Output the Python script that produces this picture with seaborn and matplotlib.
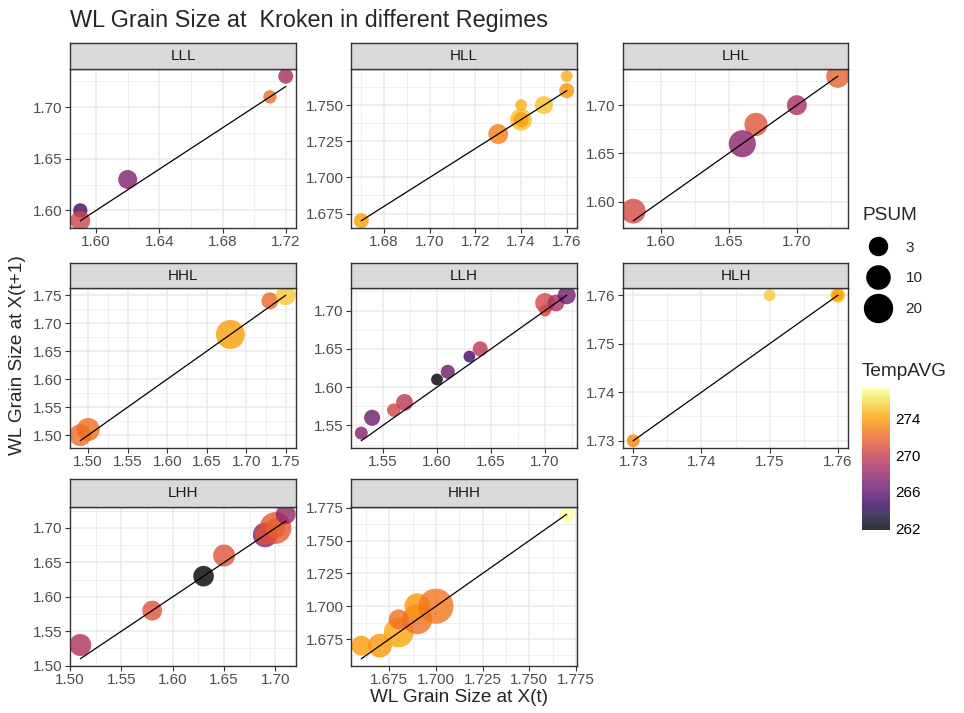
import numpy as np
import pandas as pd
import matplotlib
matplotlib.use('Agg')
import matplotlib.pyplot as plt
from matplotlib.lines import Line2D
from matplotlib.colors import Normalize
from matplotlib.ticker import FixedLocator, FixedFormatter
import seaborn as sns

sns.set_style('white')
plt.rcParams['font.family'] = ['Liberation Sans', 'DejaVu Sans']

# ---- data ----
regime_order = ['LLL', 'HLL', 'LHL', 'HHL', 'LLH', 'HLH', 'LHH', 'HHH']

regime = (['LLL'] * 5 + ['HLL'] * 8 + ['LHL'] * 5 + ['HHL'] * 5 +
          ['LLH'] * 12 + ['HLH'] * 4 + ['LHH'] * 9 + ['HHH'] * 8)

x_t = [1.59, 1.59, 1.62, 1.71, 1.72,
       1.67, 1.73, 1.74, 1.74, 1.74, 1.75, 1.76, 1.76,
       1.58, 1.67, 1.66, 1.70, 1.73,
       1.49, 1.50, 1.68, 1.73, 1.75,
       1.53, 1.54, 1.56, 1.57, 1.60, 1.61, 1.63, 1.64, 1.70, 1.70, 1.71, 1.72,
       1.73, 1.75, 1.76, 1.76,
       1.51, 1.58, 1.63, 1.65, 1.69, 1.70, 1.69, 1.70, 1.71,
       1.66, 1.67, 1.68, 1.68, 1.69, 1.69, 1.70, 1.77]

x_t1 = [1.60, 1.59, 1.63, 1.71, 1.73,
        1.67, 1.73, 1.74, 1.74, 1.75, 1.75, 1.76, 1.77,
        1.59, 1.68, 1.66, 1.70, 1.73,
        1.50, 1.51, 1.68, 1.74, 1.75,
        1.54, 1.56, 1.57, 1.58, 1.61, 1.62, 1.64, 1.65, 1.71, 1.70, 1.71, 1.72,
        1.73, 1.76, 1.76, 1.76,
        1.53, 1.58, 1.63, 1.66, 1.69, 1.70, 1.69, 1.70, 1.72,
        1.67, 1.67, 1.68, 1.69, 1.69, 1.70, 1.70, 1.77]

psum = [0.5, 5, 4, 0.2, 0.8,
        0.8, 5, 8, 0.8, 0, 3, 0.8, 0,
        13, 10, 18, 5, 10,
        8, 10, 23, 2, 5,
        0.1, 1.4, 0.2, 2, 0, 0.4, 0, 0.8, 5, 0, 2, 3,
        0.1, 0, 0.8, 0,
        8, 5, 6, 8, 13, 31, 5, 5, 5,
        5, 11, 25, 5, 25, 15, 42, 1.4]

temp = [264.9, 270.4, 267.3, 272.4, 268.8,
        274.0, 273.0, 275.1, 274.0, 274.6, 275.2, 273.7, 274.6,
        270.7, 271.2, 267.7, 268.8, 271.8,
        272.3, 272.4, 274.0, 272.1, 275.4,
        267.3, 266.5, 270.4, 269.6, 261.8, 266.5, 264.9, 269.6, 270.7, 270.7, 268.8, 266.8,
        273.2, 275.5, 275.2, 274.0,
        269.1, 271.2, 261.8, 271.2, 267.4, 271.5, 271.0, 271.8, 268.0,
        274.0, 273.8, 274.3, 272.4, 272.4, 273.8, 272.7, 277.4]

x_ticks = {
    'LLL': [1.60, 1.64, 1.68, 1.72],
    'HLL': [1.68, 1.70, 1.72, 1.74, 1.76],
    'LHL': [1.60, 1.65, 1.70],
    'HHL': [1.50, 1.55, 1.60, 1.65, 1.70, 1.75],
    'LLH': [1.55, 1.60, 1.65, 1.70],
    'HLH': [1.73, 1.74, 1.75, 1.76],
    'LHH': [1.50, 1.55, 1.60, 1.65, 1.70],
    'HHH': [1.675, 1.700, 1.725, 1.750, 1.775],
}
y_ticks = {
    'LLL': [1.60, 1.65, 1.70],
    'HLL': [1.675, 1.700, 1.725, 1.750],
    'LHL': [1.60, 1.65, 1.70],
    'HHL': [1.50, 1.55, 1.60, 1.65, 1.70, 1.75],
    'LLH': [1.55, 1.60, 1.65, 1.70],
    'HLH': [1.73, 1.74, 1.75, 1.76],
    'LHH': [1.50, 1.55, 1.60, 1.65, 1.70],
    'HHH': [1.675, 1.700, 1.725, 1.750, 1.775],
}
legend_psum = [3, 10, 20]
cbar_ticks = [262, 266, 270, 274]

df = pd.DataFrame({'regime': regime, 'x_t': x_t, 'x_t1': x_t1,
                   'PSUM': psum, 'TempAVG': temp})

# ---- styling ----
W, H = 964, 713
temp_norm = (261.8, 277.4)
small = 11
big = 13.7


def diam_px(v):
    return 11.8 + 3.6 * np.sqrt(v)


size_map = {v: (diam_px(v) * 0.72) ** 2 for v in sorted(set(psum))}


def fmt_ticks(ticks):
    dec = 3 if any(abs(t * 100 - round(t * 100)) > 1e-6 for t in ticks) else 2
    return ['{:.{}f}'.format(t, dec) for t in ticks]


def minor_of(ticks):
    step = ticks[1] - ticks[0]
    return [ticks[0] - step / 2] + [t + step / 2 for t in ticks]


def expand(lo, hi, f=0.05):
    r = hi - lo
    return lo - r * f, hi + r * f


cols = [(70, 296), (351, 577), (623, 848)]
rows = [(43, 69, 228), (263, 288, 448), (479, 507, 666)]

fig = plt.figure(figsize=(W / 100, H / 100), dpi=100)

for i, name in enumerate(regime_order):
    c0, c1 = cols[i % 3]
    s0, p0, p1 = rows[i // 3]
    ax = fig.add_axes([c0 / W, 1 - p1 / H, (c1 - c0) / W, (p1 - p0) / H])
    sax = fig.add_axes([c0 / W, 1 - p0 / H, (c1 - c0) / W, (p0 - s0) / H])

    sub = df[df.regime == name]
    sns.scatterplot(data=sub, x='x_t', y='x_t1', hue='TempAVG', size='PSUM',
                    palette='inferno', hue_norm=temp_norm, sizes=size_map,
                    alpha=0.8, linewidth=0, legend=False, ax=ax, zorder=2)
    sns.lineplot(x=sub.x_t, y=sub.x_t, color='black', lw=0.9,
                 errorbar=None, ax=ax, zorder=3)

    ax.set_xlim(*expand(sub.x_t.min(), sub.x_t.max()))
    ylo = min(sub.x_t1.min(), sub.x_t.min())
    yhi = max(sub.x_t1.max(), sub.x_t.max())
    ax.set_ylim(*expand(ylo, yhi))

    xt, yt = x_ticks[name], y_ticks[name]
    ax.xaxis.set_major_locator(FixedLocator(xt))
    ax.xaxis.set_major_formatter(FixedFormatter(fmt_ticks(xt)))
    ax.yaxis.set_major_locator(FixedLocator(yt))
    ax.yaxis.set_major_formatter(FixedFormatter(fmt_ticks(yt)))
    ax.xaxis.set_minor_locator(FixedLocator(minor_of(xt)))
    ax.yaxis.set_minor_locator(FixedLocator(minor_of(yt)))

    ax.set_facecolor('white')
    ax.set_axisbelow(True)
    ax.grid(which='major', color='#EBEBEB', lw=1.1)
    ax.grid(which='minor', color='#EBEBEB', lw=0.55)
    for sp in ax.spines.values():
        sp.set_color('#333333')
        sp.set_linewidth(1.0)
    ax.tick_params(which='major', length=3.4, width=0.8, color='#333333',
                   labelsize=small, labelcolor='#4D4D4D', pad=2,
                   bottom=True, left=True)
    ax.tick_params(which='minor', length=0)
    ax.set_xlabel('')
    ax.set_ylabel('')

    sax.set_facecolor('#D9D9D9')
    sax.set_xticks([])
    sax.set_yticks([])
    for sp in sax.spines.values():
        sp.set_color('#333333')
        sp.set_linewidth(1.0)
    sax.text(0.5, 0.5, name, ha='center', va='center', fontsize=small,
             color='#1A1A1A', transform=sax.transAxes)

# titles
fig.text(70 / W, 1 - 20 / H, 'WL Grain Size at  Kroken in different Regimes',
         fontsize=16.8, va='center', ha='left')
fig.text(459 / W, 1 - 698 / H, 'WL Grain Size at X(t)', fontsize=big,
         ha='center', va='center')
fig.text(18 / W, 1 - 355 / H, 'WL Grain Size at X(t+1)', fontsize=big,
         ha='center', va='center', rotation=90)

# size legend
handles = [Line2D([], [], marker='o', ls='', color='black',
                  markersize=diam_px(v) * 0.72) for v in legend_psum]
leg = fig.legend(handles, [str(v) for v in legend_psum], title='PSUM',
                 loc='upper left', bbox_to_anchor=(852 / W, 1 - 196 / H),
                 frameon=False, fontsize=small, title_fontsize=big,
                 alignment='left', labelspacing=1.1, handletextpad=0.8,
                 borderpad=0.2, handlelength=2.0)

# colour bar
fig.text(862 / W, 1 - 372 / H, 'TempAVG', fontsize=big, ha='left', va='center')
cax = fig.add_axes([862 / W, 1 - 530 / H, 28 / W, 142 / H])
sm = plt.cm.ScalarMappable(norm=Normalize(*temp_norm), cmap='inferno')
cb = fig.colorbar(sm, cax=cax, alpha=0.8)
cb.outline.set_visible(False)
cb.set_ticks(cbar_ticks)
cax.tick_params(direction='in', length=5.5, width=0.8, color='white',
                labelcolor='black', labelsize=small, left=True, right=True,
                labelleft=False, labelright=True, pad=4)

fig.savefig('out.png', dpi=100)
